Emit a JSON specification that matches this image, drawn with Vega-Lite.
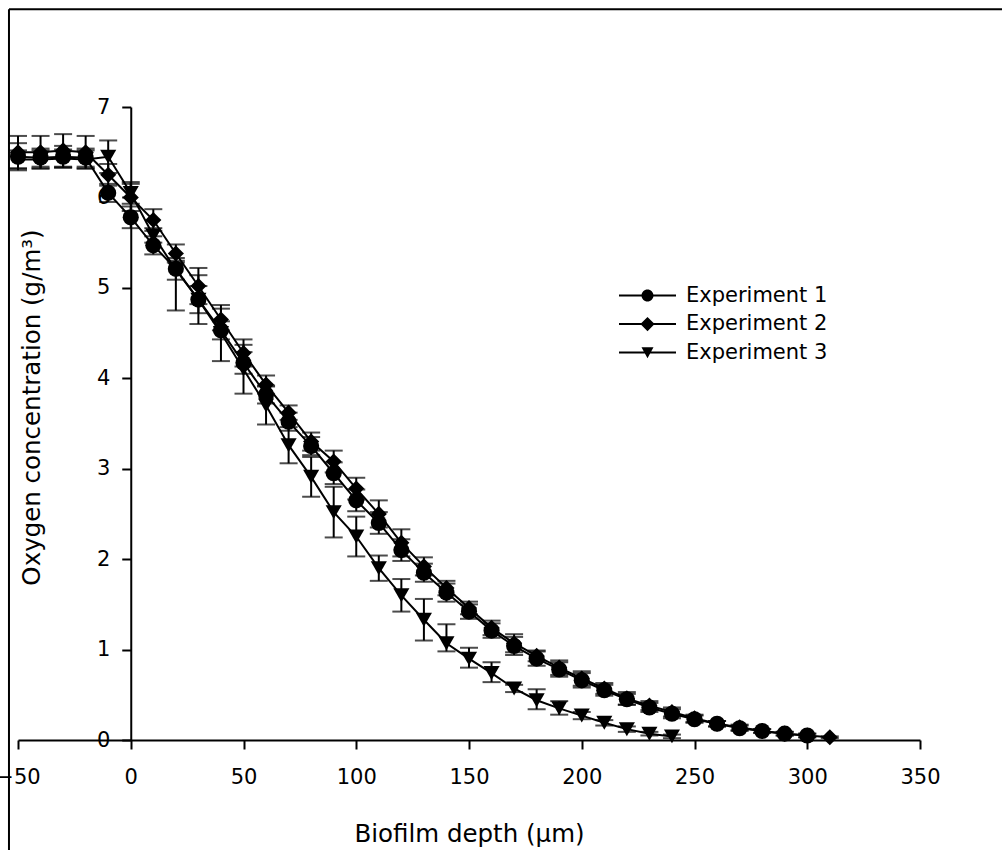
{
"$schema": "https://vega.github.io/schema/vega-lite/v6.json",
"autosize": {"type": "none"},
"width": 902,
"height": 633,
"padding": {"left": 18, "top": 107, "right": 82, "bottom": 110},
"background": "white",
"config": {
  "view": {"stroke": null},
  "font": "DejaVu Sans",
  "axis": {"grid": false, "domainColor": "black", "domainWidth": 2, "tickColor": "black", "tickWidth": 2, "tickSize": 9, "labelColor": "black", "titleColor": "black", "labelFont": "DejaVu Sans", "titleFont": "DejaVu Sans", "labelFontSize": 21, "titleFontSize": 24.5, "titleFontWeight": "normal"},
  "legend": {"labelFont": "DejaVu Sans", "labelFontSize": 21, "labelColor": "black"}
},
"datasets": {
  "d": [
    {"exp": "Experiment 1", "depth": -50, "o2": 6.45, "lo": 6.3, "hi": 6.6},
    {"exp": "Experiment 1", "depth": -40, "o2": 6.44, "lo": 6.34, "hi": 6.54},
    {"exp": "Experiment 1", "depth": -30, "o2": 6.45, "lo": 6.33, "hi": 6.57},
    {"exp": "Experiment 1", "depth": -20, "o2": 6.44, "lo": 6.34, "hi": 6.54},
    {"exp": "Experiment 1", "depth": -10, "o2": 6.05, "lo": 5.95, "hi": 6.15},
    {"exp": "Experiment 1", "depth": 0, "o2": 5.78, "lo": 5.66, "hi": 5.9},
    {"exp": "Experiment 1", "depth": 10, "o2": 5.47, "lo": 5.37, "hi": 5.57},
    {"exp": "Experiment 1", "depth": 20, "o2": 5.21, "lo": 5.09, "hi": 5.33},
    {"exp": "Experiment 1", "depth": 30, "o2": 4.87, "lo": 4.72, "hi": 5.02},
    {"exp": "Experiment 1", "depth": 40, "o2": 4.53, "lo": 4.43, "hi": 4.63},
    {"exp": "Experiment 1", "depth": 50, "o2": 4.17, "lo": 4.05, "hi": 4.29},
    {"exp": "Experiment 1", "depth": 60, "o2": 3.82, "lo": 3.72, "hi": 3.92},
    {"exp": "Experiment 1", "depth": 70, "o2": 3.52, "lo": 3.42, "hi": 3.62},
    {"exp": "Experiment 1", "depth": 80, "o2": 3.25, "lo": 3.15, "hi": 3.35},
    {"exp": "Experiment 1", "depth": 90, "o2": 2.95, "lo": 2.83, "hi": 3.07},
    {"exp": "Experiment 1", "depth": 100, "o2": 2.65, "lo": 2.53, "hi": 2.77},
    {"exp": "Experiment 1", "depth": 110, "o2": 2.4, "lo": 2.28, "hi": 2.52},
    {"exp": "Experiment 1", "depth": 120, "o2": 2.1, "lo": 1.98, "hi": 2.22},
    {"exp": "Experiment 1", "depth": 130, "o2": 1.85, "lo": 1.75, "hi": 1.95},
    {"exp": "Experiment 1", "depth": 140, "o2": 1.63, "lo": 1.53, "hi": 1.73},
    {"exp": "Experiment 1", "depth": 150, "o2": 1.42, "lo": 1.34, "hi": 1.5},
    {"exp": "Experiment 1", "depth": 160, "o2": 1.21, "lo": 1.13, "hi": 1.29},
    {"exp": "Experiment 1", "depth": 170, "o2": 1.04, "lo": 0.94, "hi": 1.14},
    {"exp": "Experiment 1", "depth": 180, "o2": 0.9, "lo": 0.82, "hi": 0.98},
    {"exp": "Experiment 1", "depth": 190, "o2": 0.78, "lo": 0.7, "hi": 0.86},
    {"exp": "Experiment 1", "depth": 200, "o2": 0.66, "lo": 0.58, "hi": 0.74},
    {"exp": "Experiment 1", "depth": 210, "o2": 0.55, "lo": 0.49, "hi": 0.61},
    {"exp": "Experiment 1", "depth": 220, "o2": 0.45, "lo": 0.39, "hi": 0.51},
    {"exp": "Experiment 1", "depth": 230, "o2": 0.36, "lo": 0.31, "hi": 0.41},
    {"exp": "Experiment 1", "depth": 240, "o2": 0.29, "lo": 0.24, "hi": 0.34},
    {"exp": "Experiment 1", "depth": 250, "o2": 0.23, "lo": 0.19, "hi": 0.27},
    {"exp": "Experiment 1", "depth": 260, "o2": 0.18, "lo": 0.15, "hi": 0.21},
    {"exp": "Experiment 1", "depth": 270, "o2": 0.13, "lo": 0.1, "hi": 0.16},
    {"exp": "Experiment 1", "depth": 280, "o2": 0.1, "lo": 0.08, "hi": 0.12},
    {"exp": "Experiment 1", "depth": 290, "o2": 0.07, "lo": 0.05, "hi": 0.09},
    {"exp": "Experiment 1", "depth": 300, "o2": 0.05, "lo": 0.03, "hi": 0.07},
    {"exp": "Experiment 2", "depth": -50, "o2": 6.5, "lo": 6.32, "hi": 6.68},
    {"exp": "Experiment 2", "depth": -40, "o2": 6.5, "lo": 6.32, "hi": 6.68},
    {"exp": "Experiment 2", "depth": -30, "o2": 6.52, "lo": 6.34, "hi": 6.7},
    {"exp": "Experiment 2", "depth": -20, "o2": 6.5, "lo": 6.32, "hi": 6.68},
    {"exp": "Experiment 2", "depth": -10, "o2": 6.25, "lo": 6.13, "hi": 6.37},
    {"exp": "Experiment 2", "depth": 0, "o2": 6.0, "lo": 5.85, "hi": 6.15},
    {"exp": "Experiment 2", "depth": 10, "o2": 5.75, "lo": 5.63, "hi": 5.87},
    {"exp": "Experiment 2", "depth": 20, "o2": 5.38, "lo": 5.28, "hi": 5.48},
    {"exp": "Experiment 2", "depth": 30, "o2": 5.02, "lo": 4.82, "hi": 5.22},
    {"exp": "Experiment 2", "depth": 40, "o2": 4.65, "lo": 4.53, "hi": 4.77},
    {"exp": "Experiment 2", "depth": 50, "o2": 4.28, "lo": 4.13, "hi": 4.43},
    {"exp": "Experiment 2", "depth": 60, "o2": 3.93, "lo": 3.83, "hi": 4.03},
    {"exp": "Experiment 2", "depth": 70, "o2": 3.62, "lo": 3.54, "hi": 3.7},
    {"exp": "Experiment 2", "depth": 80, "o2": 3.3, "lo": 3.2, "hi": 3.4},
    {"exp": "Experiment 2", "depth": 90, "o2": 3.08, "lo": 2.96, "hi": 3.2},
    {"exp": "Experiment 2", "depth": 100, "o2": 2.78, "lo": 2.66, "hi": 2.9},
    {"exp": "Experiment 2", "depth": 110, "o2": 2.5, "lo": 2.35, "hi": 2.65},
    {"exp": "Experiment 2", "depth": 120, "o2": 2.18, "lo": 2.03, "hi": 2.33},
    {"exp": "Experiment 2", "depth": 130, "o2": 1.92, "lo": 1.82, "hi": 2.02},
    {"exp": "Experiment 2", "depth": 140, "o2": 1.68, "lo": 1.6, "hi": 1.76},
    {"exp": "Experiment 2", "depth": 150, "o2": 1.46, "lo": 1.39, "hi": 1.53},
    {"exp": "Experiment 2", "depth": 160, "o2": 1.24, "lo": 1.16, "hi": 1.32},
    {"exp": "Experiment 2", "depth": 170, "o2": 1.07, "lo": 0.97, "hi": 1.17},
    {"exp": "Experiment 2", "depth": 180, "o2": 0.93, "lo": 0.87, "hi": 0.99},
    {"exp": "Experiment 2", "depth": 190, "o2": 0.8, "lo": 0.72, "hi": 0.88},
    {"exp": "Experiment 2", "depth": 200, "o2": 0.68, "lo": 0.6, "hi": 0.76},
    {"exp": "Experiment 2", "depth": 210, "o2": 0.57, "lo": 0.51, "hi": 0.63},
    {"exp": "Experiment 2", "depth": 220, "o2": 0.46, "lo": 0.39, "hi": 0.53},
    {"exp": "Experiment 2", "depth": 230, "o2": 0.38, "lo": 0.33, "hi": 0.43},
    {"exp": "Experiment 2", "depth": 240, "o2": 0.31, "lo": 0.26, "hi": 0.36},
    {"exp": "Experiment 2", "depth": 250, "o2": 0.24, "lo": 0.2, "hi": 0.28},
    {"exp": "Experiment 2", "depth": 260, "o2": 0.18, "lo": 0.15, "hi": 0.21},
    {"exp": "Experiment 2", "depth": 270, "o2": 0.14, "lo": 0.11, "hi": 0.17},
    {"exp": "Experiment 2", "depth": 280, "o2": 0.1, "lo": 0.08, "hi": 0.12},
    {"exp": "Experiment 2", "depth": 290, "o2": 0.07, "lo": 0.05, "hi": 0.09},
    {"exp": "Experiment 2", "depth": 300, "o2": 0.05, "lo": 0.03, "hi": 0.07},
    {"exp": "Experiment 2", "depth": 310, "o2": 0.03, "lo": 0.02, "hi": 0.04},
    {"exp": "Experiment 3", "depth": -50, "o2": 6.42, "lo": 6.32, "hi": 6.52},
    {"exp": "Experiment 3", "depth": -40, "o2": 6.42, "lo": 6.32, "hi": 6.52},
    {"exp": "Experiment 3", "depth": -30, "o2": 6.43, "lo": 6.33, "hi": 6.53},
    {"exp": "Experiment 3", "depth": -20, "o2": 6.42, "lo": 6.32, "hi": 6.52},
    {"exp": "Experiment 3", "depth": -10, "o2": 6.45, "lo": 6.27, "hi": 6.63},
    {"exp": "Experiment 3", "depth": 0, "o2": 6.05, "lo": 5.93, "hi": 6.17},
    {"exp": "Experiment 3", "depth": 10, "o2": 5.58, "lo": 5.5, "hi": 5.66},
    {"exp": "Experiment 3", "depth": 20, "o2": 5.2, "lo": 4.75, "hi": 5.3},
    {"exp": "Experiment 3", "depth": 30, "o2": 4.87, "lo": 4.6, "hi": 5.14},
    {"exp": "Experiment 3", "depth": 40, "o2": 4.5, "lo": 4.19, "hi": 4.81},
    {"exp": "Experiment 3", "depth": 50, "o2": 4.1, "lo": 3.83, "hi": 4.37},
    {"exp": "Experiment 3", "depth": 60, "o2": 3.7, "lo": 3.49, "hi": 3.91},
    {"exp": "Experiment 3", "depth": 70, "o2": 3.26, "lo": 3.06, "hi": 3.46},
    {"exp": "Experiment 3", "depth": 80, "o2": 2.91, "lo": 2.69, "hi": 3.13},
    {"exp": "Experiment 3", "depth": 90, "o2": 2.52, "lo": 2.24, "hi": 2.8},
    {"exp": "Experiment 3", "depth": 100, "o2": 2.25, "lo": 2.03, "hi": 2.47},
    {"exp": "Experiment 3", "depth": 110, "o2": 1.9, "lo": 1.76, "hi": 2.04},
    {"exp": "Experiment 3", "depth": 120, "o2": 1.6, "lo": 1.42, "hi": 1.78},
    {"exp": "Experiment 3", "depth": 130, "o2": 1.33, "lo": 1.1, "hi": 1.56},
    {"exp": "Experiment 3", "depth": 140, "o2": 1.07, "lo": 0.98, "hi": 1.28},
    {"exp": "Experiment 3", "depth": 150, "o2": 0.9, "lo": 0.8, "hi": 1.02},
    {"exp": "Experiment 3", "depth": 160, "o2": 0.74, "lo": 0.64, "hi": 0.86},
    {"exp": "Experiment 3", "depth": 170, "o2": 0.57, "lo": 0.53, "hi": 0.61},
    {"exp": "Experiment 3", "depth": 180, "o2": 0.44, "lo": 0.34, "hi": 0.56},
    {"exp": "Experiment 3", "depth": 190, "o2": 0.35, "lo": 0.28, "hi": 0.43},
    {"exp": "Experiment 3", "depth": 200, "o2": 0.27, "lo": 0.23, "hi": 0.31},
    {"exp": "Experiment 3", "depth": 210, "o2": 0.19, "lo": 0.16, "hi": 0.22},
    {"exp": "Experiment 3", "depth": 220, "o2": 0.12, "lo": 0.09, "hi": 0.15},
    {"exp": "Experiment 3", "depth": 230, "o2": 0.07, "lo": 0.05, "hi": 0.09},
    {"exp": "Experiment 3", "depth": 240, "o2": 0.04, "lo": 0.02, "hi": 0.06}
  ]
},
"resolve": {"scale": {"shape": "independent"}, "legend": {"shape": "independent"}},
"layer": [
  {
    "data": {"values": [{}]},
    "mark": {"type": "rule", "color": "black", "strokeWidth": 2, "clip": false},
    "encoding": {
      "x": {"datum": -54, "type": "quantitative", "scale": {"domain": [-50, 350], "nice": false, "zero": false},
        "axis": {"values": [-50, 0, 50, 100, 150, 200, 250, 300, 350], "labelFlush": false, "title": "Biofilm depth (μm)", "labelFont": "DejaVu Sans", "labelFontSize": 21, "labelPadding": 17, "titleFont": "DejaVu Sans", "titleFontSize": 24.5, "titleFontWeight": "normal", "titleY": 82}},
      "y": {"datum": 8.08, "type": "quantitative", "scale": {"domain": [0, 7], "nice": false, "zero": false},
        "axis": {"values": [0, 1, 2, 3, 4, 5, 6, 7], "format": "d", "title": "Oxygen concentration (g/m³)", "offset": -112.75, "labelFont": "DejaVu Sans", "labelFontSize": 21, "labelPadding": 12, "titleFont": "DejaVu Sans", "titleFontSize": 24.5, "titleFontWeight": "normal", "titleX": -86, "titleY": 300}},
      "y2": {"datum": -2}
    }
  },
  {
    "data": {"values": [{}]},
    "mark": {"type": "rule", "color": "black", "strokeWidth": 2, "clip": false},
    "encoding": {
      "y": {"datum": 8.08, "type": "quantitative"},
      "x": {"datum": -54, "type": "quantitative"},
      "x2": {"datum": 420}
    }
  },
  {
    "data": {"name": "d"},
    "mark": {"type": "rule", "color": "black", "strokeWidth": 2},
    "encoding": {
      "x": {"field": "depth", "type": "quantitative"},
      "y": {"field": "lo", "type": "quantitative"},
      "y2": {"field": "hi"}
    }
  },
  {
    "data": {"name": "d"},
    "mark": {"type": "tick", "color": "black", "thickness": 2, "size": 18, "orient": "horizontal"},
    "encoding": {
      "x": {"field": "depth", "type": "quantitative"},
      "y": {"field": "lo", "type": "quantitative"}
    }
  },
  {
    "data": {"name": "d"},
    "mark": {"type": "tick", "color": "black", "thickness": 2, "size": 18, "orient": "horizontal"},
    "encoding": {
      "x": {"field": "depth", "type": "quantitative"},
      "y": {"field": "hi", "type": "quantitative"}
    }
  },
  {
    "data": {"name": "d"},
    "mark": {"type": "line", "color": "black", "strokeWidth": 2},
    "encoding": {
      "x": {"field": "depth", "type": "quantitative"},
      "y": {"field": "o2", "type": "quantitative"},
      "detail": {"field": "exp", "type": "nominal"}
    }
  },
  {
    "data": {"name": "d"},
    "mark": {"type": "point", "filled": true, "color": "black", "opacity": 1, "size": 260},
    "encoding": {
      "x": {"field": "depth", "type": "quantitative"},
      "y": {"field": "o2", "type": "quantitative"},
      "shape": {"field": "exp", "type": "nominal", "scale": {"domain": ["Experiment 1", "Experiment 2", "Experiment 3"], "range": ["circle", "diamond", "triangle-down"]}, "legend": null}
    }
  },
  {
    "data": {"name": "d"},
    "transform": [{"filter": "datum.depth > 100000"}],
    "mark": {"type": "point", "filled": true, "color": "black", "opacity": 1, "size": 225},
    "encoding": {
      "x": {"field": "depth", "type": "quantitative"},
      "y": {"field": "o2", "type": "quantitative"},
      "shape": {"field": "exp", "type": "nominal",
        "scale": {"domain": ["Experiment 1", "Experiment 2", "Experiment 3"],
          "range": ["M-3.8,-0.12H3.8V0.12H-3.8ZM0.8,0A0.8,0.8,0,1,1,-0.8,0A0.8,0.8,0,1,1,0.8,0Z", "M-3.8,-0.12H3.8V0.12H-3.8ZM0,-0.95L0.95,0L0,0.95L-0.95,0Z", "M-3.8,-0.12H3.8V0.12H-3.8ZM-0.8,-0.7L0.8,-0.7L0,0.75Z"]},
        "legend": {"title": null, "orient": "none", "legendX": 619, "legendY": 178, "padding": 0, "symbolSize": 225, "symbolFillColor": "black", "labelOffset": 28, "rowPadding": 6.5, "labelFont": "DejaVu Sans", "labelFontSize": 21}}
    }
  }
]
}
